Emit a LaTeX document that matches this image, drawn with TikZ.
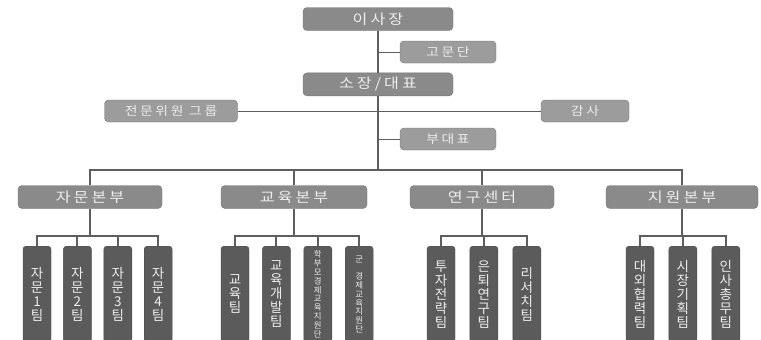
\documentclass[tikz,border=0pt]{standalone}
\usepackage{fontspec}
\setmainfont{Noto Sans CJK KR}
\newfontfamily\hdfont{Noto Sans CJK KR}[FakeStretch=1.15,LetterSpace=22]
\usetikzlibrary{positioning}

\definecolor{headgray}{HTML}{8A8A8A}
\definecolor{headedge}{HTML}{747474}
\definecolor{sidegray}{HTML}{9C9C9C}
\definecolor{teamgray}{HTML}{5B5B5B}
\definecolor{teamedge}{HTML}{4A4A4A}
\definecolor{linegray}{HTML}{5E5E5E}
\definecolor{lighttext}{HTML}{EDEDED}

\tikzset{
  head/.style={draw=headedge, fill=headgray, rounded corners=4pt, text=lighttext,
    font=\hdfont\fontsize{14}{14}\selectfont, minimum height=23pt, inner sep=0pt},
  side/.style={draw=headedge, fill=sidegray, rounded corners=4pt, text=lighttext,
    font=\hdfont\fontsize{12}{12}\selectfont, minimum height=22pt, inner sep=0pt},
  team/.style={draw=teamedge, fill=teamgray, rounded corners=3pt, text=lighttext,
    minimum width=28pt, minimum height=96pt, text width=14pt, align=center,
    inner sep=0pt, anchor=north, font=\fontsize{13.5}{14}\selectfont},
  small/.style={font=\fontsize{8.4}{8.8}\selectfont},
  link/.style={draw=linegray, line width=2pt},
  thin/.style={draw=linegray, line width=1pt}
}

\begin{document}
\begin{tikzpicture}[x=1pt, y=-1pt]

                    \useasboundingbox (0,0) rectangle (761,340);
                    \clip (0,0) rectangle (761,340);

                    \node[head, minimum width=150pt] (board) at (378,19) {이사장};
                    \node[head, minimum width=150pt] (ceo) [below = 42pt of board] {소장/대표};
                    \node[side, minimum width=96pt] (advisers) at (448,52) {고문단};
                    \node[side, minimum width=96pt] (vice) at (448,139) {부대표};
                    \node[side, minimum width=133pt] (experts) at (171,111) {전문위원 그룹};
                    \node[side, minimum width=88pt] (audit) at (585,111) {감사};

                    \node[head, minimum width=144pt] (div_1) at (90,197) {자문본부};
                    \node[head, minimum width=146pt] (div_2) at (294,197) {교육본부};
                    \node[head, minimum width=144pt] (div_3) at (482,197) {연구센터};
                    \node[head, minimum width=152pt] (div_4) at (682,197) {지원본부};

                    % teams
                    \node[team] (t_11) at (37,246) {자\\문\\1\\팀};
                    \node[team] (t_12) [right = 12pt of t_11] {자\\문\\2\\팀};
                    \node[team] (t_13) [right = 12pt of t_12] {자\\문\\3\\팀};
                    \node[team] (t_14) [right = 12pt of t_13] {자\\문\\4\\팀};

                    \node[team] (t_21) at (235,246) {교\\육\\팀};
                    \node[team] (t_22) [right = 13pt of t_21] {교\\육\\개\\발\\팀};
                    \node[team, small] (t_23) [right = 13pt of t_22] {학\\부\\모\\경\\제\\교\\육\\지\\원\\단};
                    \node[team, small] (t_24) [right = 13pt of t_23] {군\\~\\경\\제\\교\\육\\지\\원\\단};

                    \node[team] (t_31) at (441,246) {투\\자\\전\\략\\팀};
                    \node[team] (t_32) [right = 14.5pt of t_31] {은\\퇴\\연\\구\\팀};
                    \node[team] (t_33) [right = 14.5pt of t_32] {리\\서\\치\\팀};

                    \node[team] (t_41) at (640,246) {대\\외\\협\\력\\팀};
                    \node[team] (t_42) [right = 14.5pt of t_41] {시\\장\\기\\획\\팀};
                    \node[team] (t_43) [right = 14.5pt of t_42] {인\\사\\총\\무\\팀};

                    \draw[link] (board.south) -- (ceo.north);
                    \draw[thin] (board.south |- advisers.west) -- (advisers.west);
                    \draw[thin] (ceo.south |- vice.west) -- (vice.west);
                    \draw[thin] (experts.east) -- (audit.west);

                    \foreach \d in {div_1, div_2, div_3, div_4}
                      \draw[link] (\d.north) -- ++(0,-15) -| (ceo.south);

                    \foreach \t/\d in {t_11/div_1, t_12/div_1, t_13/div_1, t_14/div_1,
                                       t_21/div_2, t_22/div_2, t_23/div_2, t_24/div_2,
                                       t_31/div_3, t_32/div_3, t_33/div_3,
                                       t_41/div_4, t_42/div_4, t_43/div_4}
                      \draw[link] (\t.north) -- ++(0,-10) -| (\d.south);

\end{tikzpicture}
\end{document}
